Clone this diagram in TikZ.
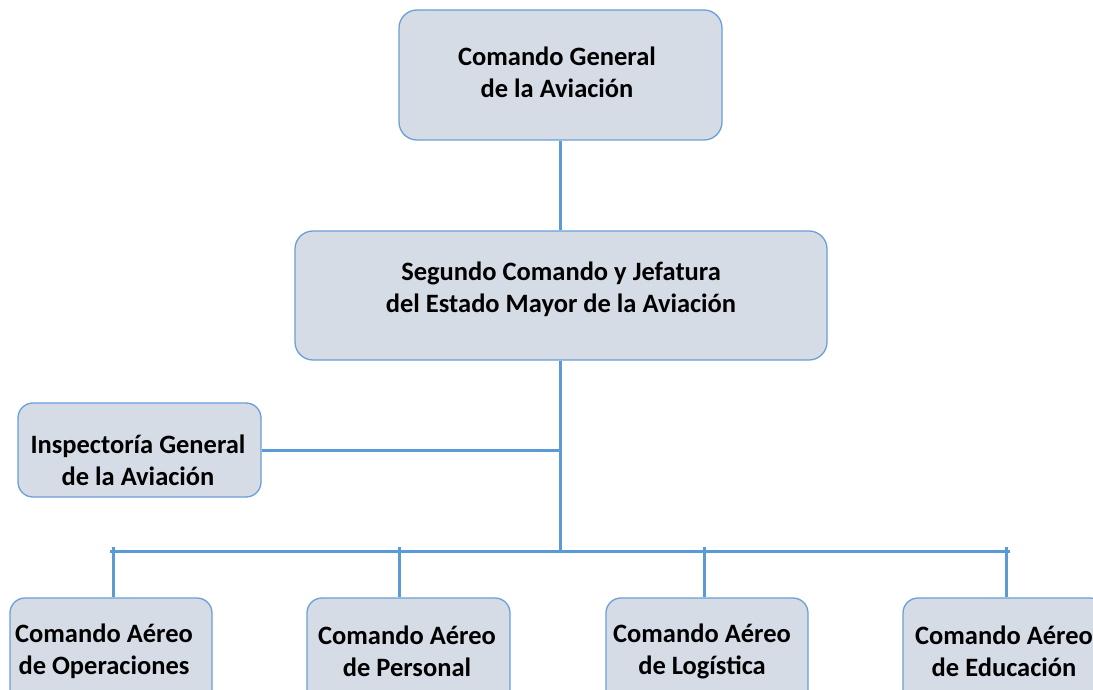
\documentclass[tikz,border=0pt]{standalone}
\usepackage{fontspec}
\setmainfont{Carlito}
\definecolor{boxfill}{HTML}{D6DCE5}
\definecolor{boxline}{HTML}{6A9FD8}
\definecolor{conn}{HTML}{5B9BD5}
\begin{document}
\begin{tikzpicture}[x=1pt,y=-1pt,
  orgbox/.style={draw=boxline,fill=boxfill,line width=1.3pt,rounded corners=#1,inner sep=0pt},
  orgbox/.default=18pt,
  lbl/.style={font=\fontsize{26.5}{32}\selectfont\bfseries,align=center,inner sep=0pt},
  link/.style={draw=conn,line width=3pt}]
\clip (0,0) rectangle (1093,690);
\fill[white] (0,0) rectangle (1093,690);
% boxes
\node[orgbox, minimum width=323pt, minimum height=130pt] (top) at (560.5,75) {};
\node[orgbox, minimum width=532pt, minimum height=129pt] (sec) at (561,295.5) {};
\node[orgbox=15pt, minimum width=243pt, minimum height=94pt] (insp) at (139.5,450) {};
\node[orgbox=15pt, minimum width=202pt, minimum height=110pt] (b1) at (111,653) {};
\node[orgbox=15pt, minimum width=203pt, minimum height=110pt] (b2) at (408.5,653) {};
\node[orgbox=15pt, minimum width=202pt, minimum height=110pt] (b3) at (707,653) {};
\node[orgbox=15pt, minimum width=202pt, minimum height=110pt] (b4) at (1004,653) {};
% texts
\node[lbl] (ttop) at (557,72) {Comando General\\de la Aviación};
\node[lbl] (tsec) at (561,289) {Segundo Comando y Jefatura\\del Estado Mayor de la Aviación};
\node[lbl] (tinsp) at (138,460) {Inspectoría General\\de la Aviación};
\node[lbl] (tb1) at (104,651) {Comando Aéreo\\de Operaciones};
\node[lbl] (tb2) at (407,651) {Comando Aéreo\\de Personal};
\node[lbl] (tb3) at (702,651) {Comando Aéreo\\de Logística};
\node[lbl] (tb4) at (1004,651) {Comando Aéreo\\de Educación};
% connectors
\coordinate (bus) at (560,551);
\coordinate (busL) at (110,551);
\coordinate (busR) at (1010,551);
\coordinate (mid) at (560,450);
\coordinate (t1) at (113,547);
\coordinate (t2) at (399,547);
\coordinate (t3) at (704,547);
\coordinate (t4) at (1006,547);
\path[link] (top.south -| bus) -- (sec.north -| bus);
\path[link] (sec.south -| bus) -- (bus);
\path[link] (insp.east) -- (mid);
\path[link] (busL) -- (busR);
\path[link] (t1) -- (b1.north -| t1);
\path[link] (t2) -- (b2.north -| t2);
\path[link] (t3) -- (b3.north -| t3);
\path[link] (t4) -- (b4.north -| t4);
\end{tikzpicture}
\end{document}
